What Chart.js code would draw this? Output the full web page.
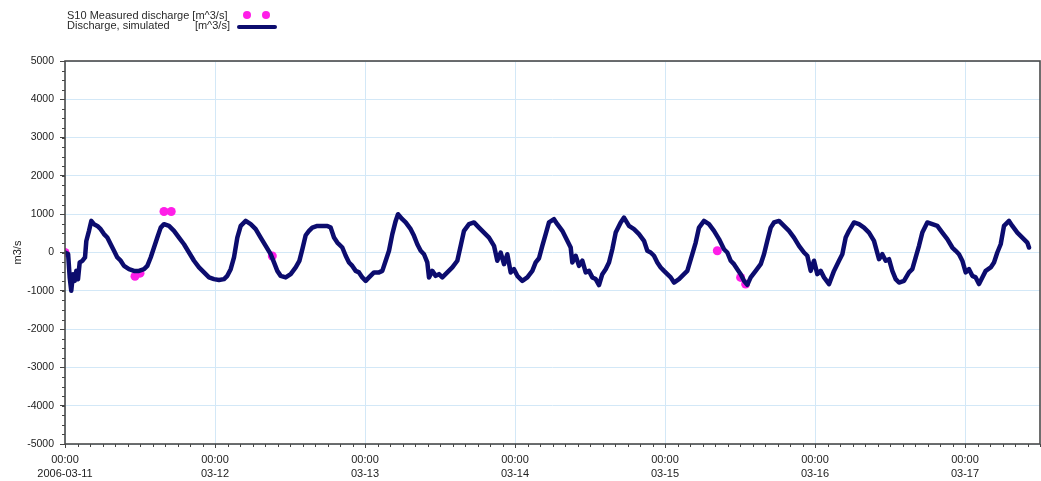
<!DOCTYPE html>
<html>
<head>
  <title>S10 discharge</title>
  <script src="https://cdn.jsdelivr.net/npm/chart.js"></script>
  <style>
    body {
      margin: 0;
      background: #fff;
      font-family: 'Liberation Sans', Arial, sans-serif;
    }
    #wrap {
      position: relative;
      width: 1041px;
      height: 481px;
    }
    .lg {
      position: absolute;
      font-size: 11px;
      line-height: 10px;
      color: #2a2a2a;
      white-space: nowrap;
    }
    .dot {
      position: absolute;
      width: 8px;
      height: 8px;
      border-radius: 50%;
      background: #ff1ee8;
    }
  </style>
</head>

<body>
<div id="wrap">
  <canvas id="dischargeChart" width="1041" height="481"></canvas>

  <!-- legend -->
  <span class="lg" style="left: 67px; top: 10px;">S10 Measured discharge [m^3/s]</span>
  <span class="lg" style="left: 67px; top: 20px;">Discharge, simulated</span>
  <span class="lg" style="left: 180px; top: 20px; width: 50px; text-align: right;">[m^3/s]</span>
  <div class="dot" style="left: 243px; top: 11px;"></div>
  <div class="dot" style="left: 262px; top: 11px;"></div>
  <div style="position: absolute; left: 237px; top: 25px; width: 40px; height: 4px; border-radius: 2px; background: #0c0c6e;"></div>
</div>

<script>
  // hours since 2006-03-11 00:00
  const simHours = [
    0, 0.5, 0.75, 1.0, 1.28, 1.55, 1.81, 2.08, 2.35, 2.77, 3.2, 3.41, 3.84, 4.21, 4.64, 5.17, 5.71, 6.24, 6.77, 7.31,
    7.84, 8.37, 8.91, 9.44, 10.24, 11.04, 11.84, 12.64, 13.17, 13.71, 14.24, 14.77, 15.31, 15.84, 16.64, 17.44, 18.24, 19.04, 19.84, 20.64,
    21.44, 22.24, 23.04, 23.84, 24.64, 25.44, 25.97, 26.51, 27.04, 27.57, 28.11, 28.91, 29.71, 30.51, 31.31, 32.11, 32.91, 33.44, 33.97, 34.51,
    35.31, 36.11, 36.91, 37.5, 38.0, 38.51, 39.04, 39.57, 40.37, 41.17, 41.97, 42.51, 43.04, 43.57, 44.37, 44.91, 45.44, 45.97, 46.51, 47.04,
    47.57, 48.11, 48.64, 49.44, 50.24, 50.77, 51.31, 51.84, 52.37, 52.91, 53.28, 53.97, 54.51, 55.31, 55.84, 56.37, 56.91, 57.44, 57.97, 58.24,
    58.77, 59.31, 59.84, 60.37, 61.17, 61.97, 62.77, 63.31, 63.84, 64.64, 65.44, 66.24, 67.04, 67.84, 68.64, 69.17, 69.71, 70.24, 70.77, 71.31,
    71.84, 72.37, 73.17, 73.97, 74.77, 75.31, 75.84, 76.37, 76.91, 77.44, 78.24, 78.77, 79.57, 80.37, 80.91, 81.17, 81.71, 82.24, 82.77, 83.31,
    83.84, 84.37, 84.91, 85.44, 85.97, 86.51, 87.04, 87.57, 88.11, 88.91, 89.44, 90.24, 91.04, 91.84, 92.64, 93.17, 93.71, 94.24, 94.77, 95.31,
    95.84, 96.37, 96.91, 97.44, 98.24, 99.04, 99.57, 100.37, 100.91, 101.44, 102.24, 103.04, 103.84, 104.64, 105.44, 105.97, 106.51, 107.04, 107.57, 108.11,
    108.64, 109.17, 109.71, 110.51, 111.31, 111.84, 112.37, 112.91, 113.44, 114.24, 115.04, 115.84, 116.64, 117.44, 118.24, 118.77, 119.31, 119.84, 120.37, 120.91,
    121.44, 122.24, 123.04, 123.84, 124.37, 124.91, 125.44, 126.24, 127.04, 127.84, 128.64, 129.44, 130.24, 130.77, 131.31, 131.84, 132.37, 132.91, 133.44, 134.24,
    135.04, 135.57, 136.11, 136.64, 137.17, 137.97, 138.77, 139.57, 140.37, 141.17, 141.97, 142.51, 143.04, 143.57, 144.11, 144.64, 145.17, 145.71, 146.24, 146.77,
    147.31, 148.11, 148.64, 149.17, 149.71, 150.24, 151.04, 151.57, 152.37, 153.17, 153.97, 154.24
  ];
  const simulated = [
    0, -40, -650, -1000, -565, -740, -480, -700, -260, -220, -130, 300, 565, 825, 740, 695, 610, 480, 390, 215,
    45, -130, -215, -350, -435, -480, -480, -435, -350, -130, 130, 390, 650, 740, 695, 565, 390, 215, 0, -215,
    -390, -520, -650, -695, -720, -695, -610, -435, -130, 390, 695, 825, 740, 610, 390, 175, -45, -260, -480, -610,
    -650, -565, -390, -220, 100, 450, 565, 650, 695, 695, 695, 650, 390, 260, 130, -85, -260, -350, -480, -520,
    -650, -740, -650, -520, -520, -480, -215, 45, 480, 825, 1000, 870, 785, 610, 435, 215, 45, -45, -260, -650,
    -480, -610, -565, -650, -520, -390, -215, 175, 565, 740, 785, 650, 520, 390, 175, -215, 0, -305, -45, -520,
    -435, -610, -740, -650, -480, -260, -150, 175, 480, 785, 870, 740, 565, 305, 130, -260, -85, -350, -215, -520,
    -480, -650, -695, -850, -565, -435, -260, 85, 520, 785, 910, 695, 610, 480, 305, 45, 0, -85, -260, -390,
    -480, -565, -650, -785, -695, -565, -480, -45, 260, 650, 825, 740, 565, 350, 85, 0, -215, -305, -435, -565,
    -740, -845, -650, -480, -305, -45, 305, 650, 785, 825, 695, 565, 390, 175, 0, -85, -480, -215, -565, -480,
    -650, -825, -480, -215, -45, 390, 565, 785, 740, 650, 520, 305, -175, -45, -215, -175, -480, -695, -785, -740,
    -520, -435, -130, 175, 520, 785, 740, 695, 520, 350, 130, 45, -45, -215, -520, -435, -610, -650, -825, -650,
    -480, -390, -260, 0, 215, 695, 825, 695, 520, 390, 260, 130
  ];

  // S10 gauge readings
  const measHours = [0, 11.2, 12.0, 15.84, 17.0, 33.17, 104.37, 108.1, 108.9];
  const measured = [0, -620, -540, 1070, 1070, -90, 45, -650, -825];

  const dayHours = [0, 24, 48, 72, 96, 120, 144];
  const dayLabels = ['2006-03-11', '03-12', '03-13', '03-14', '03-15', '03-16', '03-17'];

  const navy = '#0c0c6e';
  const magenta = '#ff1ee8';
  const gridBlue = '#d3e8f7';
  const axisGrey = '#444';

  // frame around the plot + small minor ticks on both axes
  const framePlugin = {
    id: 'frame',
    afterDraw(chart) {
      const { ctx, chartArea: a, scales: { x, y } } = chart;
      ctx.save();
      ctx.strokeStyle = axisGrey;
      ctx.lineWidth = 1;
      ctx.beginPath();
      for (let h = 0; h <= 156; h += 2) {
        const px = Math.round(x.getPixelForValue(h)) + 0.5;
        ctx.moveTo(px, a.bottom);
        ctx.lineTo(px, a.bottom + 3);
      }
      for (let v = -5000; v <= 5000; v += 250) {
        const py = Math.round(y.getPixelForValue(v)) + 0.5;
        ctx.moveTo(a.left - 3, py);
        ctx.lineTo(a.left, py);
      }
      ctx.stroke();
      ctx.lineWidth = 1.6;
      ctx.strokeStyle = '#4a4a4a';
      ctx.strokeRect(a.left, a.top, a.right - a.left, a.bottom - a.top);
      ctx.restore();
    }
  };

  new Chart(document.getElementById('dischargeChart'), {
    type: 'line',
    data: {
      datasets: [
        {
          label: 'Discharge, simulated',
          data: simHours.map((h, i) => ({ x: h, y: simulated[i] })),
          borderColor: navy,
          borderWidth: 4.5,
          borderJoinStyle: 'round',
          borderCapStyle: 'round',
          pointRadius: 0,
          tension: 0
        },
        {
          label: 'S10 Measured discharge',
          data: measHours.map((h, i) => ({ x: h, y: measured[i] })),
          showLine: false,
          pointRadius: 4.5,
          pointBackgroundColor: magenta,
          pointBorderWidth: 0
        }
      ]
    },
    options: {
      responsive: false,
      animation: false,
      devicePixelRatio: 1,
      layout: { autoPadding: false, padding: { top: 61, right: 1, left: 0, bottom: 0 } },
      plugins: {
        legend: { display: false },
        tooltip: { enabled: false }
      },
      scales: {
        x: {
          type: 'linear',
          min: 0,
          max: 156,
          afterBuildTicks: (s) => { s.ticks = dayHours.map(v => ({ value: v })); },
          afterFit: (s) => {
            s.height = 37;
            s.paddingLeft = 0;
            s.paddingRight = 0;
          },
          border: { display: false },
          grid: { color: gridBlue, tickColor: axisGrey, tickLength: 4 },
          ticks: {
            padding: 5,
            maxRotation: 0,
            autoSkip: false,
            color: '#222',
            font: { family: "'Liberation Sans', Arial", size: 11, lineHeight: 1.25 },
            callback: (v) => ['00:00', dayLabels[dayHours.indexOf(v)]]
          }
        },
        y: {
          min: -5000,
          max: 5000,
          afterFit: (s) => { s.width = 65; },
          border: { display: false },
          grid: { color: gridBlue, tickColor: axisGrey, tickLength: 5 },
          ticks: {
            stepSize: 1000,
            padding: 6,
            color: '#222',
            font: { family: "'Liberation Sans', Arial", size: 10.5 },
            callback: (v) => String(v)
          },
          title: {
            display: true,
            text: 'm3/s',
            color: '#222',
            padding: { top: 11, bottom: 0 },
            font: { family: "'Liberation Sans', Arial", size: 11 }
          }
        }
      }
    },
    plugins: [framePlugin]
  });
</script>
</body>
</html>
